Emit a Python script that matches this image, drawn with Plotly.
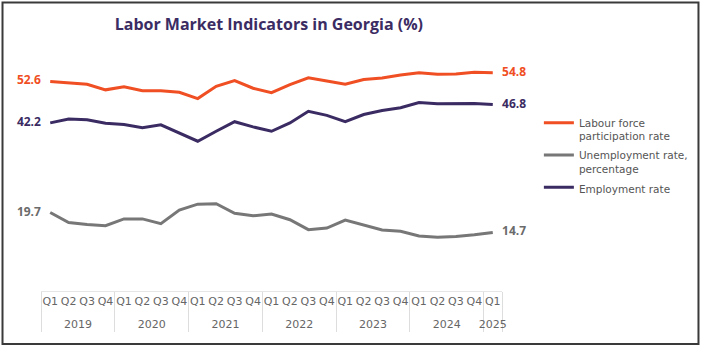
import plotly.graph_objects as go

# Quarterly labour market indicators for Georgia, Q1 2019 - Q1 2025 (%)
years = ["2019"] * 4 + ["2020"] * 4 + ["2021"] * 4 + ["2022"] * 4 + ["2023"] * 4 + ["2024"] * 4 + ["2025"]
quarters = ["Q1", "Q2", "Q3", "Q4"] * 6 + ["Q1"]

labour_force_participation = [
    52.6, 52.3, 51.9, 50.5, 51.3, 50.3, 50.3, 49.9,
    48.3, 51.4, 52.8, 50.9, 49.8, 51.8, 53.5, 52.7,
    51.9, 53.1, 53.5, 54.2, 54.8, 54.4, 54.5, 54.9, 54.8,
]
unemployment_rate = [
    19.7, 17.2, 16.7, 16.4, 18.1, 18.1, 16.9, 20.3,
    21.8, 21.9, 19.5, 18.9, 19.3, 17.9, 15.4, 15.8,
    17.8, 16.5, 15.3, 15.0, 13.8, 13.5, 13.7, 14.1, 14.7,
]
employment_rate = [
    42.2, 43.2, 43.0, 42.1, 41.8, 41.0, 41.7, 39.7,
    37.6, 40.1, 42.5, 41.2, 40.1, 42.2, 45.1, 44.1,
    42.5, 44.3, 45.3, 46.0, 47.3, 47.0, 47.1, 47.1, 46.8,
]

series = [
    ("Labour force<br>participation rate", labour_force_participation, "#F04E23", "#F04E23"),
    ("Unemployment rate,<br>percentage", unemployment_rate, "#777777", "#6b6b6b"),
    ("Employment rate", employment_rate, "#3B2B63", "#3B2B63"),
]

# year row of the category axis is nudged a little further below the quarters
year_labels = [f"<span style='baseline-shift:-8px'>{y}</span>" for y in years]

fig = go.Figure()
for i, (name, values, line_color, label_color) in enumerate(series):
    n = len(values)
    # end-point value labels, padded away from the line ends
    labels = [f"{values[0]:.1f}   "] + [""] * (n - 2) + [f"   {values[-1]:.1f}"]
    positions = ["middle left"] + ["middle center"] * (n - 2) + ["middle right"]
    fig.add_trace(go.Scatter(
        x=[year_labels, quarters],
        y=values,
        name=name,
        legendgroup=f"g{i}",
        mode="lines+text",
        line=dict(color=line_color, width=3),
        text=labels,
        textposition=positions,
        textfont=dict(family="Open Sans", size=12, color=label_color, weight="bold"),
        hoverinfo="skip",
        cliponaxis=False,
    ))

fig.update_layout(
    width=702,
    height=348,
    margin=dict(l=41, r=200, t=52, b=57, autoexpand=False),
    paper_bgcolor="white",
    plot_bgcolor="white",
    title=dict(
        text="<b>Labor Market Indicators in Georgia (%)</b>",
        font=dict(family="Open Sans", size=16, color="#3B2C63"),
        x=0.383, xanchor="center", xref="container",
        y=0.93, yanchor="middle", yref="container",
    ),
    showlegend=True,
    legend=dict(
        x=1.08, xanchor="left", y=0.76, yanchor="top",
        font=dict(family="DejaVu Sans", size=10.5, color="#555555"),
        bgcolor="rgba(0,0,0,0)",
        valign="top",
        tracegroupgap=2,
        itemwidth=30,
    ),
    xaxis=dict(
        type="multicategory",
        range=[-0.5, len(quarters) - 0.5],
        automargin=False,
        tickangle=0,
        showgrid=False,
        showline=True,
        linecolor="#e6e6e6",
        linewidth=1,
        ticks="",
        showdividers=True,
        dividercolor="#dddddd",
        dividerwidth=1,
        tickfont=dict(family="DejaVu Sans", size=11, color="#666666"),
        zeroline=False,
    ),
    yaxis=dict(
        range=[0, 60],
        visible=False,
        showgrid=False,
        zeroline=False,
        automargin=False,
    ),
    shapes=[
        dict(
            type="rect", xref="paper", yref="paper",
            x0=-0.0835, x1=1.4262, y0=-0.2218, y1=1.2071,
            line=dict(color="#3a3a3a", width=2),
            fillcolor="rgba(0,0,0,0)",
            layer="above",
        )
    ],
)

fig.write_html("out.html")
